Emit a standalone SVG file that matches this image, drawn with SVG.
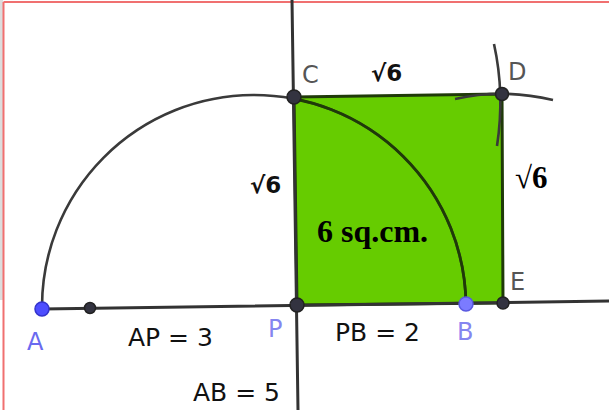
<svg xmlns="http://www.w3.org/2000/svg" width="609" height="410" viewBox="0 0 609 410">
<style>
.ln{stroke:#333;stroke-width:3;fill:none;stroke-linecap:round}
.arc{stroke:#3a3a3a;stroke-width:2.6;fill:none}
.pt{fill:#333340;stroke:#222;stroke-width:1.5}
.lbl{font-family:"DejaVu Sans",sans-serif;font-size:24px;fill:#555}
.eq{font-family:"DejaVu Sans",sans-serif;font-size:25px;fill:#111}
.rt{font-family:"DejaVu Sans",sans-serif;font-size:23px;font-weight:bold;fill:#111}
.sf{font-family:"Liberation Serif",serif;font-weight:bold;fill:#000}
</style>
<defs>
<clipPath id="sq"><polygon points="294,97 502,94 503,303 297,305"/></clipPath>
</defs>
<rect x="0" y="0" width="609" height="410" fill="#fff"/>
<rect x="0" y="0" width="3" height="300" fill="#ddd"/>
<g id="frame">
<line x1="3.5" y1="2" x2="3.5" y2="410" stroke="#f07070" stroke-width="2"/>
<line x1="3.5" y1="2" x2="609" y2="2" stroke="#f07070" stroke-width="2"/>
</g>
<g id="square">
<polygon points="294,97 502,94 503,303 297,305" fill="#66cc00" stroke="#1f3a08" stroke-width="3" stroke-linejoin="round"/>
</g>
<g id="connectors">
<line class="ln" x1="292" y1="0" x2="298" y2="410"/>
<line class="ln" x1="42" y1="309" x2="609" y2="301"/>
<path class="arc" d="M42,308 A212,212 0 0 1 466,306"/>
<path d="M42,308 A212,212 0 0 1 466,306" fill="none" stroke="#1f3a08" stroke-width="2.8" clip-path="url(#sq)"/>
<path class="arc" d="M494,44 Q505,94 497,146"/>
<path class="arc" d="M455,99 Q503,88 553,100"/>
</g>
<g id="A"><circle class="pt" cx="42" cy="309" r="7" style="fill:#4d4dff;stroke:#3333cc"/><text class="lbl" x="27" y="350" style="fill:#6a6af0">A</text></g>
<g id="M"><circle class="pt" cx="90" cy="308" r="5.5"/></g>
<g id="P"><circle class="pt" cx="297" cy="305" r="7"/><text class="lbl" x="268" y="337" style="fill:#8585f0">P</text></g>
<g id="B"><circle class="pt" cx="466" cy="304" r="7" style="fill:#7b7bff;stroke:#5a5ae0"/><text class="lbl" x="457" y="340" style="fill:#8585f0">B</text></g>
<g id="E"><circle class="pt" cx="503" cy="303" r="6"/><text class="lbl" x="510" y="290">E</text></g>
<g id="C"><circle class="pt" cx="294" cy="97" r="7"/><text class="lbl" x="302" y="83">C</text></g>
<g id="D"><circle class="pt" cx="502" cy="94" r="6.5"/><text class="lbl" x="508" y="80">D</text></g>
<g id="labels">
<text class="rt" x="371" y="81">√6</text>
<text class="rt" x="250" y="193">√6</text>
<text class="sf" x="515" y="188" font-size="31">√6</text>
<text class="sf" x="317" y="242" font-size="32">6 sq.cm.</text>
<text class="eq" x="128" y="346">AP = 3</text>
<text class="eq" x="335" y="341">PB = 2</text>
<text class="eq" x="193" y="401">AB = 5</text>
</g>
</svg>
